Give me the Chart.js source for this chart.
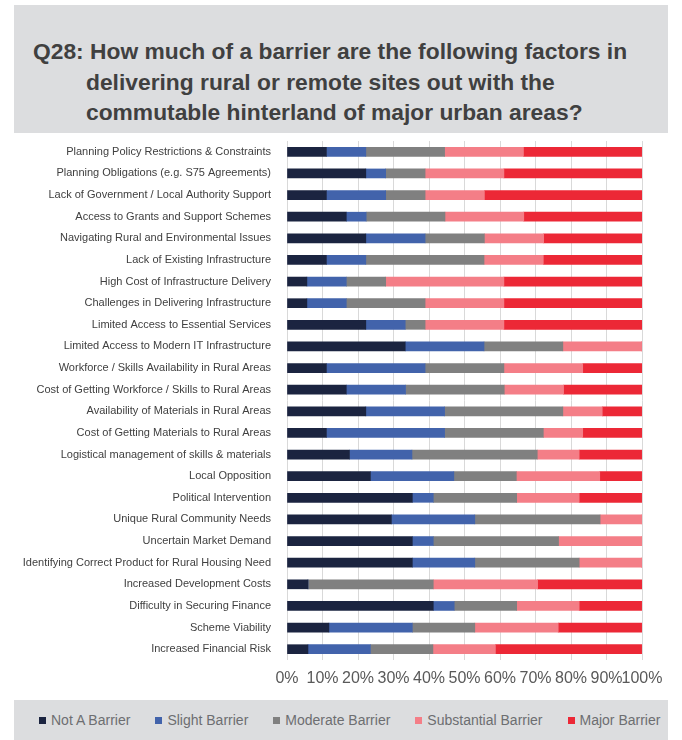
<!DOCTYPE html>
<html>
<head>
<meta charset="utf-8">
<script src="https://cdn.jsdelivr.net/npm/chart.js@4.4.1/dist/chart.umd.min.js"></script>
<style>
  body { margin: 0; background: #fff; font-family: "Liberation Sans", Arial, sans-serif; }
  #page { position: relative; width: 682px; height: 740px; overflow: hidden; }
  #titleBox {
    position: absolute; left: 14px; top: 5px; width: 654px; height: 128px;
    background: #dcdddf; box-sizing: border-box;
    padding: 31px 0 0 72px; text-indent: -53px; white-space: nowrap;
    font-weight: bold; font-size: 22.8px; line-height: 30.5px; color: #404040;
  }
  #chartWrap { position: absolute; left: 0; top: 0; width: 682px; height: 700px; }
  #legendBox {
    position: absolute; left: 14px; top: 700px; width: 654px; height: 40px;
    box-sizing: border-box; padding-left: 25px;
    background: #dcdddf; display: flex; align-items: center; justify-content: flex-start;
    gap: 25px; font-size: 14px; color: #6d6e71; white-space: nowrap;
  }
  .item { display: flex; align-items: center; }
  .sw { width: 7px; height: 7px; margin-right: 5px; }
</style>
</head>
<body>
<div id="page">
  <div id="titleBox">Q28: How much of a barrier are the following factors in<br>delivering rural or remote sites out with the<br>commutable hinterland of major urban areas?</div>
  <div id="chartWrap"><canvas id="barrier_cntxt"></canvas></div>
  <div id="legendBox"></div>
</div>
<script>
var factors = [
  "Planning Policy Restrictions & Constraints",
  "Planning Obligations (e.g. S75 Agreements)",
  "Lack of Government / Local Authority Support",
  "Access to Grants and Support Schemes",
  "Navigating Rural and Environmental Issues",
  "Lack of Existing Infrastructure",
  "High Cost of Infrastructure Delivery",
  "Challenges in Delivering Infrastructure",
  "Limited Access to Essential Services",
  "Limited Access to Modern IT Infrastructure",
  "Workforce / Skills Availability in Rural Areas",
  "Cost of Getting Workforce / Skills to Rural Areas",
  "Availability of Materials in Rural Areas",
  "Cost of Getting Materials to Rural Areas",
  "Logistical management of skills & materials",
  "Local Opposition",
  "Political Intervention",
  "Unique Rural Community Needs",
  "Uncertain Market Demand",
  "Identifying Correct Product for Rural Housing Need",
  "Increased Development Costs",
  "Difficulty in Securing Finance",
  "Scheme Viability",
  "Increased Financial Risk"
];

var not_a_barrier     = [11.1, 22.2, 11.1, 16.7, 22.2, 11.1, 5.6, 5.6, 22.2, 33.3, 11.1, 16.7, 22.2, 11.1, 17.6, 23.5, 35.3, 29.4, 35.3, 35.3, 5.9, 41.2, 11.8, 5.9];
var slight_barrier    = [11.1, 5.6, 16.7, 5.6, 16.7, 11.1, 11.1, 11.1, 11.1, 22.2, 27.8, 16.7, 22.2, 33.3, 17.6, 23.5, 5.9, 23.5, 5.9, 17.6, 0, 5.9, 23.5, 17.6];
var moderate_barrier  = [22.2, 11.1, 11.1, 22.2, 16.7, 33.3, 11.1, 22.2, 5.6, 22.2, 22.2, 27.8, 33.3, 27.8, 35.3, 17.6, 23.5, 35.3, 35.3, 29.4, 35.3, 17.6, 17.6, 17.6];
var substantial_barrier = [22.2, 22.2, 16.7, 22.2, 16.7, 16.7, 33.3, 22.2, 22.2, 22.2, 22.2, 16.7, 11.1, 11.1, 11.8, 23.5, 17.6, 11.8, 23.5, 17.6, 29.4, 17.6, 23.5, 17.6];
var major_barrier     = [33.3, 38.9, 44.4, 33.3, 27.8, 27.8, 38.9, 38.9, 38.9, 0, 16.7, 22.2, 11.1, 16.7, 17.6, 11.8, 17.6, 0, 0, 0, 29.4, 17.6, 23.5, 41.2];

var series_names = ["Not A Barrier", "Slight Barrier", "Moderate Barrier", "Substantial Barrier", "Major Barrier"];
var series_values = [not_a_barrier, slight_barrier, moderate_barrier, substantial_barrier, major_barrier];
var series_colors = ['#1b2440', '#4263ab', '#808080', '#f47e87', '#ec2836'];

var x_ticks = [0, 10, 20, 30, 40, 50, 60, 70, 80, 90, 100];

var datasets = series_names.map(function(name, i) {
  return {
    label: name,
    data: series_values[i],
    backgroundColor: series_colors[i],
    borderWidth: 0,
    barThickness: 9
  };
});

// html legend built from the series
var legendBox = document.getElementById('legendBox');
series_names.forEach(function(name, i) {
  var it = document.createElement('div');
  it.className = 'item';
  it.innerHTML = '<span class="sw" style="background:' + series_colors[i] + '"></span>' + name;
  legendBox.appendChild(it);
});

var current_cntxt = document.getElementById("barrier_cntxt").getContext('2d');
var barrier_chart = new Chart(current_cntxt, {
  type: 'bar',
  data: { labels: factors, datasets: datasets },
  options: {
    indexAxis: 'y',
    responsive: true,
    maintainAspectRatio: false,
    animation: false,
    layout: { padding: { top: 141, right: 40, left: 0, bottom: 0 } },
    plugins: {
      legend: { display: false },
      tooltip: { enabled: false }
    },
    scales: {
      x: {
        stacked: true,
        min: 0,
        max: 100,
        afterBuildTicks: function(scale) {
          scale.ticks = x_ticks.map(function(v) { return { value: v }; });
        },
        afterFit: function(scale) { scale.height = 40; },
        border: { display: false },
        grid: { color: '#d9d9d9', lineWidth: 1, drawTicks: false },
        ticks: {
          padding: 9,
          maxRotation: 0,
          autoSkip: false,
          color: '#595959',
          font: { family: '"Liberation Sans", Arial, sans-serif', size: 16 },
          callback: function(v) { return v + '%'; }
        }
      },
      y: {
        stacked: true,
        afterFit: function(scale) { scale.width = 287; },
        border: { display: false },
        grid: { display: false },
        ticks: {
          padding: 8,
          autoSkip: false,
          color: '#404040',
          font: { family: '"Liberation Sans", Arial, sans-serif', size: 11 }
        }
      }
    }
  }
});
</script>
</body>
</html>
